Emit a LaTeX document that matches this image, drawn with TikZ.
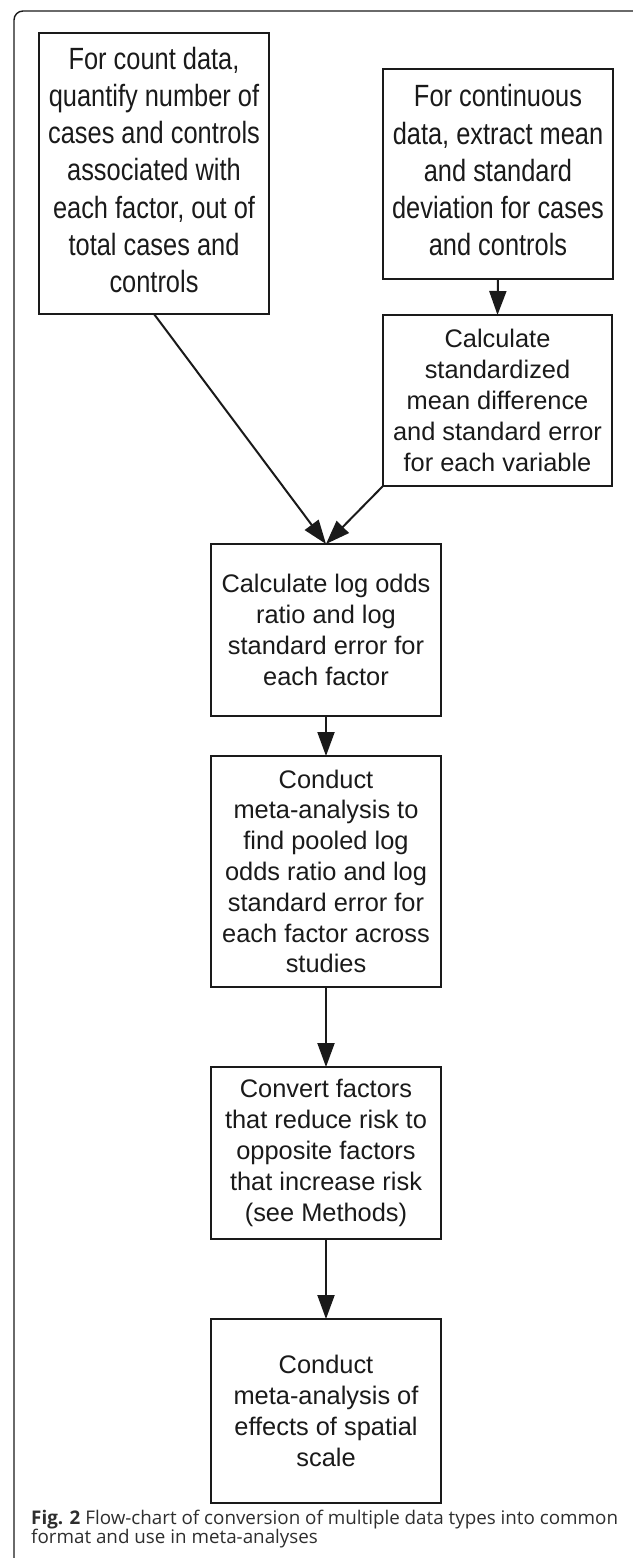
\documentclass[tikz,border=0pt]{standalone}
\usepackage{fontspec}
\setmainfont{Liberation Sans}
\newfontfamily\capfont{Open Sans}
\usetikzlibrary{arrows.meta}
\definecolor{ink}{HTML}{1A1A1A}
\definecolor{captxt}{HTML}{2E2E2E}
\tikzset{
  flowbox/.style={draw=ink, line width=2.6bp, rectangle, inner sep=0pt, outer sep=0pt,
    text=ink, align=center, font=\fontsize{25.4bp}{30.8bp}\selectfont},
  flowarrow/.style={draw=ink, line width=2bp, -{Triangle[length=24bp,width=17bp]}},
  captext/.style={anchor=base west, inner sep=0pt, text=captxt,
    font=\capfont\fontsize{18.8bp}{19bp}\selectfont},
}
\newcommand{\tallstack}[1]{\scalebox{1}[1.21]{\begin{tabular}{@{}c@{}}#1\end{tabular}}}
\begin{document}
\begin{tikzpicture}[x=1bp,y=-1bp]
\useasboundingbox (0,0) rectangle (633,1558);
\begin{scope}
\clip (0,0) rectangle (633,1558);
\draw[ink, line width=1.4bp, rounded corners=9bp] (14,1570) -- (14,11) -- (660,11);
\end{scope}

\node[flowbox, minimum width=230bp, minimum height=281bp] (b1) at (154,173.5)
  {\tallstack{For count data,\\quantify number of\\cases and controls\\associated with\\each factor, out of\\total cases and\\controls}};
\node[flowbox, minimum width=230bp, minimum height=210bp] (b2) at (498,174)
  {\tallstack{For continuous\\data, extract mean\\and standard\\deviation for cases\\and controls}};
\node[flowbox, minimum width=229bp, minimum height=171bp] (b3) at (497.5,400.5)
  {Calculate\\standardized\\mean difference\\and standard error\\for each variable};
\node[flowbox, minimum width=230bp, minimum height=172bp] (b4) at (326,630)
  {Calculate log odds\\ratio and log\\standard error for\\each factor};
\node[flowbox, minimum width=230bp, minimum height=231bp] (b5) at (326,871.5)
  {Conduct\\meta-analysis to\\find pooled log\\odds ratio and log\\standard error for\\each factor across\\studies};
\node[flowbox, minimum width=230bp, minimum height=172bp] (b6) at (326,1153)
  {Convert factors\\that reduce risk to\\opposite factors\\that increase risk\\(see Methods)};
\node[flowbox, minimum width=230bp, minimum height=184bp] (b7) at (326,1411)
  {Conduct\\meta-analysis of\\effects of spatial\\scale};

\draw[flowarrow] (b2.south) -- (b3.north);
\draw[flowarrow] (b1.south) -- (b4.north);
\draw[flowarrow] (b3.south west) -- (b4.north);
\draw[flowarrow] (b4.south) -- (b5.north);
\draw[flowarrow] (b5.south) -- (b6.north);
\draw[flowarrow] (b6.south) -- (b7.north);

\node[captext] (cap1) at (31,1524)
  {\textbf{Fig. 2} Flow-chart of conversion of multiple data types into common};
\node[captext] (cap2) at (31,1543) {format and use in meta-analyses};
\end{tikzpicture}
\end{document}
